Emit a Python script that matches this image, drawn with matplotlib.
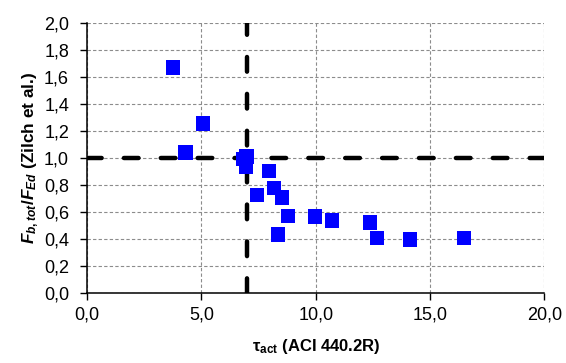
import matplotlib
matplotlib.use("Agg")
import matplotlib.pyplot as plt
from matplotlib.ticker import FuncFormatter, MultipleLocator

# tau_act (ACI 440.2R) vs F_b,tot / F_Ed (Zilch et al.)
tau_act = [3.76, 5.06, 4.30, 6.80, 6.97, 6.93, 7.95, 8.18, 7.44, 8.52,
           8.78, 8.34, 9.96, 10.72, 12.37, 12.69, 14.11, 16.48]
f_ratio = [1.667, 1.252, 1.037, 0.990, 1.007, 0.933, 0.899, 0.773, 0.721, 0.704,
           0.568, 0.430, 0.563, 0.533, 0.519, 0.402, 0.393, 0.407]
tau_limit = 7.0
ratio_limit = 1.0

plt.rcParams.update({
    "font.family": "Liberation Sans", "font.size": 12,
    "mathtext.fontset": "custom",
    "mathtext.rm": "Liberation Sans:bold",
    "mathtext.it": "Liberation Sans:italic:bold",
    "mathtext.bf": "Liberation Sans:bold",
})

fig = plt.figure(figsize=(5.66, 3.63), dpi=100)
ax = fig.add_axes([0.154, 0.194, 0.808, 0.744])

ax.grid(True, color="#8c8c8c", ls=(0, (3, 2)), lw=0.8)
ax.set_axisbelow(True)

dash = dict(color="black", lw=3.2, dash_capstyle="round", dashes=(3.3, 5.0), zorder=2)
ax.axhline(ratio_limit, **dash)
ax.axvline(tau_limit, **dash)

ax.scatter(tau_act, f_ratio, marker="s", s=105, color="#0000ff", edgecolors="none", zorder=3)

ax.set_xlim(0, 20)
ax.set_ylim(0, 2.0)
ax.xaxis.set_major_locator(MultipleLocator(5))
ax.yaxis.set_major_locator(MultipleLocator(0.2))
comma = FuncFormatter(lambda v, p: f"{v:.1f}".replace(".", ","))
ax.xaxis.set_major_formatter(comma)
ax.yaxis.set_major_formatter(comma)
ax.tick_params(direction="out", length=5, width=1, colors="black", labelsize=13)
ax.tick_params(axis="y", pad=8)
ax.tick_params(axis="x", pad=5)

for s in ("top", "right"):
    ax.spines[s].set_visible(False)
for s in ("left", "bottom"):
    ax.spines[s].set_linewidth(1.1)

ax.set_xlabel(r"$\mathregular{\tau_{act}}$ (ACI 440.2R)", fontweight="bold", fontsize=12, labelpad=10)
ax.set_ylabel(r"$F_{b,tot}/F_{Ed}$ (Zilch et al.)", fontweight="bold", fontsize=12.4, labelpad=2)

fig.savefig("out.png", dpi=100)
